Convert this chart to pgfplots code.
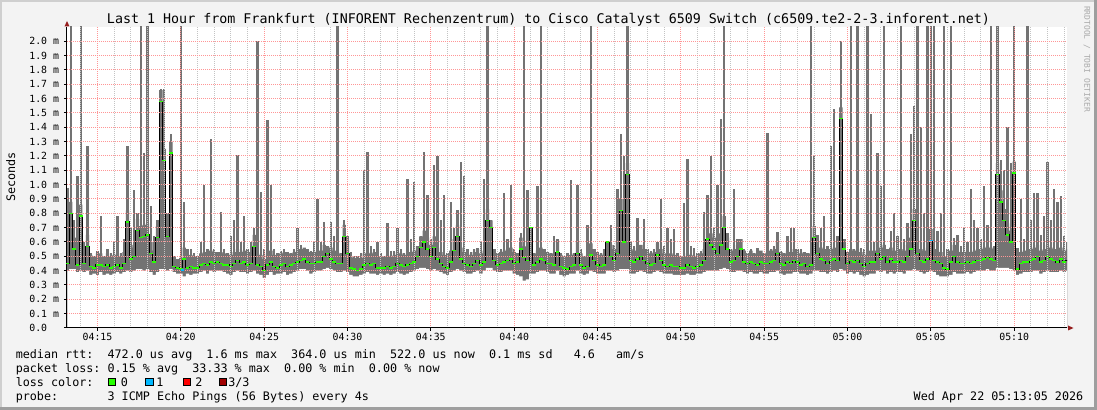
\documentclass[border=0pt]{standalone}
\usepackage{pgfplots}
\pgfplotsset{compat=1.18}
\usepackage{pgfplotstable}
\usepackage{fontspec}
\setmainfont{DejaVu Sans Mono}

\definecolor{canvas}{RGB}{243,243,243}
\definecolor{shadeA}{RGB}{207,207,207}
\definecolor{shadeB}{RGB}{158,158,158}
\definecolor{smoke}{RGB}{115,115,115}
\definecolor{loss0}{RGB}{38,255,0}
\definecolor{loss1}{RGB}{0,184,255}
\definecolor{loss2}{RGB}{255,0,0}
\definecolor{loss3}{RGB}{160,0,0}
\definecolor{mgrid}{RGB}{255,150,150}
\definecolor{mingrid}{RGB}{195,195,195}
\definecolor{arrowc}{RGB}{150,30,30}
\definecolor{signc}{RGB}{170,170,170}

% minutes after 04:00, max / median / min rtt in ms
\pgfplotstableread{
t hi med lo
13.2 0.98 0.45 0.40
13.4 2.50 0.80 0.41
13.6 0.75 0.55 0.41
13.8 1.06 0.44 0.39
14.0 2.50 0.78 0.40
14.2 0.60 0.45 0.39
14.4 1.27 0.57 0.40
14.6 0.52 0.43 0.37
14.8 0.50 0.42 0.38
15.0 0.54 0.44 0.37
15.2 0.78 0.44 0.39
15.4 0.50 0.43 0.37
15.6 0.55 0.44 0.38
15.8 0.52 0.42 0.37
16.0 0.60 0.43 0.38
16.2 0.78 0.44 0.39
16.4 0.52 0.42 0.38
16.6 0.62 0.45 0.39
16.8 1.27 0.74 0.40
17.0 0.70 0.48 0.39
17.2 0.96 0.50 0.40
17.4 0.80 0.68 0.41
17.6 2.50 0.63 0.41
17.8 1.22 0.64 0.40
18.0 2.50 0.65 0.41
18.2 0.85 0.52 0.39
18.4 0.64 0.46 0.37
18.6 0.75 0.63 0.39
18.8 1.67 1.58 0.41
19.0 1.67 1.17 0.41
19.2 0.80 0.64 0.40
19.4 1.35 1.22 0.41
19.6 0.50 0.43 0.39
19.8 0.48 0.42 0.38
20.0 2.50 0.41 0.38
20.2 0.88 0.48 0.36
20.4 0.55 0.42 0.38
20.6 0.55 0.43 0.37
20.8 0.52 0.42 0.38
21.0 0.50 0.42 0.38
21.2 0.60 0.44 0.39
21.4 1.00 0.45 0.40
21.6 0.55 0.44 0.38
21.8 1.32 0.46 0.40
22.0 0.55 0.45 0.39
22.2 0.53 0.46 0.40
22.4 0.81 0.45 0.40
22.6 0.55 0.44 0.39
22.8 0.52 0.44 0.38
23.0 0.64 0.43 0.37
23.2 0.75 0.45 0.39
23.4 1.21 0.47 0.40
23.6 0.60 0.45 0.39
23.8 0.78 0.46 0.39
24.0 0.55 0.44 0.38
24.2 0.60 0.45 0.39
24.4 0.70 0.57 0.40
24.6 2.00 0.44 0.38
24.8 0.95 0.43 0.37
25.0 0.55 0.40 0.35
25.2 1.45 0.44 0.37
25.4 1.00 0.46 0.39
25.6 0.55 0.43 0.37
25.8 0.52 0.42 0.38
26.0 0.54 0.44 0.38
26.2 0.55 0.45 0.39
26.4 0.53 0.43 0.37
26.6 0.52 0.44 0.38
26.8 0.55 0.45 0.39
27.0 0.70 0.46 0.40
27.2 0.58 0.47 0.41
27.4 0.56 0.48 0.41
27.6 0.55 0.46 0.40
27.8 0.54 0.45 0.38
28.0 0.60 0.45 0.39
28.2 0.90 0.46 0.40
28.4 0.60 0.46 0.40
28.6 0.74 0.50 0.41
28.8 0.57 0.52 0.42
29.0 0.74 0.48 0.41
29.2 0.64 0.46 0.40
29.4 2.50 0.45 0.39
29.6 0.52 0.45 0.39
29.8 0.75 0.64 0.40
30.0 0.64 0.52 0.39
30.2 0.53 0.42 0.37
30.4 0.50 0.41 0.36
30.6 0.50 0.40 0.36
30.8 0.52 0.41 0.37
31.0 1.10 0.44 0.38
31.2 1.23 0.45 0.39
31.4 0.57 0.44 0.38
31.6 0.55 0.45 0.38
31.8 0.60 0.42 0.37
32.0 0.52 0.42 0.38
32.2 0.50 0.42 0.37
32.4 0.73 0.43 0.38
32.6 0.54 0.42 0.37
32.8 0.54 0.43 0.38
33.0 0.70 0.45 0.39
33.2 0.55 0.44 0.38
33.4 0.52 0.43 0.37
33.6 1.04 0.44 0.38
33.8 0.62 0.45 0.39
34.0 1.02 0.46 0.40
34.2 0.57 0.50 0.41
34.4 0.64 0.56 0.42
34.6 1.23 0.60 0.42
34.8 0.93 0.55 0.41
35.0 0.62 0.50 0.40
35.2 1.14 0.56 0.41
35.4 1.20 0.48 0.40
35.6 0.75 0.45 0.39
35.8 0.93 0.43 0.38
36.0 0.52 0.42 0.37
36.2 0.88 0.46 0.39
36.4 0.70 0.54 0.40
36.6 0.82 0.64 0.41
36.8 1.16 0.48 0.40
37.0 1.06 0.45 0.39
37.2 0.55 0.44 0.38
37.4 0.53 0.43 0.38
37.6 0.55 0.45 0.39
37.8 0.56 0.47 0.40
38.0 0.60 0.44 0.38
38.2 1.04 0.46 0.40
38.4 2.50 0.75 0.42
38.6 0.75 0.70 0.42
38.8 0.55 0.47 0.40
39.0 0.52 0.44 0.39
39.2 0.55 0.45 0.39
39.4 0.94 0.46 0.40
39.6 0.62 0.47 0.40
39.8 1.00 0.48 0.40
40.0 0.55 0.45 0.38
40.2 0.52 0.46 0.37
40.4 0.66 0.55 0.36
40.6 2.50 0.49 0.33
40.8 0.96 0.47 0.34
41.0 0.70 0.70 0.38
41.2 0.52 0.44 0.38
41.4 0.99 0.46 0.39
41.6 2.50 0.48 0.40
41.8 0.55 0.47 0.40
42.0 0.53 0.45 0.39
42.2 0.52 0.45 0.38
42.4 0.64 0.44 0.38
42.6 0.62 0.53 0.40
42.8 0.52 0.43 0.37
43.0 0.50 0.42 0.36
43.2 0.52 0.41 0.37
43.4 1.03 0.43 0.38
43.6 0.52 0.44 0.38
43.8 1.00 0.52 0.40
44.0 0.55 0.44 0.38
44.2 0.50 0.42 0.37
44.4 0.72 0.43 0.38
44.6 2.50 0.51 0.40
44.8 0.55 0.47 0.39
45.0 0.53 0.44 0.38
45.2 0.52 0.43 0.38
45.4 0.55 0.44 0.38
45.6 0.60 0.60 0.40
45.8 0.72 0.50 0.40
46.0 0.58 0.47 0.39
46.2 0.97 0.52 0.40
46.4 1.35 0.82 0.41
46.6 1.20 0.60 0.41
46.8 2.50 1.07 0.41
47.0 0.60 0.47 0.38
47.2 0.57 0.46 0.38
47.4 0.77 0.48 0.39
47.6 0.58 0.50 0.40
47.8 0.76 0.47 0.39
48.0 0.55 0.45 0.38
48.2 0.54 0.44 0.38
48.4 0.55 0.45 0.39
48.6 0.60 0.51 0.40
48.8 0.90 0.47 0.39
49.0 0.57 0.44 0.38
49.2 0.70 0.43 0.38
49.4 0.62 0.44 0.38
49.6 0.69 0.43 0.37
49.8 0.52 0.43 0.37
50.0 0.50 0.42 0.37
50.2 0.87 0.42 0.37
50.4 1.18 0.44 0.38
50.6 0.57 0.43 0.37
50.8 0.56 0.42 0.37
51.0 0.52 0.43 0.38
51.2 0.54 0.44 0.38
51.4 0.81 0.47 0.39
51.6 0.93 0.62 0.40
51.8 1.20 0.58 0.40
52.0 0.70 0.55 0.40
52.2 1.00 0.52 0.40
52.4 1.46 0.58 0.41
52.6 2.50 0.70 0.42
52.8 0.66 0.55 0.41
53.0 0.55 0.46 0.39
53.2 0.97 0.47 0.39
53.4 0.62 0.50 0.40
53.6 0.62 0.55 0.40
53.8 0.55 0.46 0.39
54.0 0.52 0.45 0.38
54.2 0.55 0.46 0.39
54.4 0.52 0.45 0.38
54.6 0.56 0.44 0.38
54.8 0.54 0.46 0.39
55.0 0.52 0.45 0.38
55.2 1.36 0.45 0.38
55.4 0.55 0.46 0.39
55.6 0.57 0.47 0.39
55.8 0.67 0.52 0.40
56.0 0.54 0.45 0.38
56.2 0.52 0.44 0.37
56.4 0.64 0.46 0.38
56.6 0.70 0.45 0.38
56.8 0.70 0.47 0.39
57.0 0.55 0.46 0.39
57.2 0.55 0.44 0.38
57.4 0.53 0.45 0.38
57.6 0.52 0.43 0.37
57.8 2.50 0.44 0.38
58.0 1.20 0.63 0.40
58.2 0.65 0.52 0.40
58.4 0.70 0.48 0.39
58.6 0.78 0.47 0.39
58.8 0.57 0.45 0.38
59.0 1.27 0.47 0.39
59.2 1.53 0.48 0.40
59.4 0.64 0.47 0.39
59.6 2.00 1.46 0.41
59.8 0.62 0.55 0.40
60.0 0.53 0.45 0.38
60.2 2.50 0.47 0.39
60.4 0.55 0.46 0.38
60.6 2.50 0.47 0.39
60.8 0.56 0.45 0.37
61.0 0.55 0.43 0.36
61.2 2.50 0.45 0.37
61.4 1.49 0.46 0.38
61.6 0.60 0.46 0.38
61.8 1.22 0.52 0.40
62.0 0.99 0.48 0.39
62.2 2.50 0.50 0.40
62.4 0.55 0.46 0.38
62.6 0.68 0.48 0.39
62.8 0.80 0.46 0.38
63.0 0.64 0.46 0.39
63.2 2.50 0.47 0.39
63.4 0.62 0.46 0.38
63.6 0.73 0.50 0.40
63.8 1.35 0.55 0.40
64.0 1.55 0.75 0.41
64.2 2.50 0.52 0.40
64.4 1.40 0.47 0.39
64.6 0.80 0.46 0.38
64.8 2.50 0.48 0.39
65.0 2.50 0.61 0.40
65.2 2.50 0.47 0.39
65.4 0.68 0.46 0.37
65.6 0.80 0.45 0.36
65.8 2.50 0.42 0.36
66.0 0.55 0.41 0.36
66.2 2.50 0.46 0.37
66.4 0.63 0.50 0.39
66.6 0.65 0.46 0.38
66.8 0.57 0.45 0.38
67.0 0.70 0.45 0.38
67.2 0.60 0.46 0.39
67.4 0.97 0.45 0.38
67.6 0.75 0.46 0.39
67.8 0.70 0.47 0.40
68.0 0.62 0.47 0.40
68.2 0.99 0.48 0.40
68.4 0.72 0.49 0.41
68.6 2.50 0.48 0.40
68.8 0.57 0.47 0.40
69.0 2.50 1.07 0.42
69.2 1.17 0.88 0.42
69.4 1.10 0.75 0.42
69.6 1.40 0.65 0.42
69.8 1.15 0.60 0.41
70.0 2.50 1.08 0.40
70.2 0.56 0.41 0.37
70.4 0.90 0.45 0.38
70.6 0.62 0.46 0.39
70.8 2.50 0.46 0.39
71.0 0.75 0.47 0.39
71.2 0.94 0.48 0.40
71.4 0.94 0.50 0.40
71.6 0.65 0.46 0.38
71.8 0.78 0.47 0.39
72.0 1.16 0.50 0.40
72.2 0.75 0.48 0.39
72.4 0.97 0.47 0.39
72.6 0.88 0.46 0.39
72.8 0.92 0.48 0.40
73.0 0.64 0.46 0.39
73.2 0.60 0.47 0.40
}\rtt

\tikzset{legfont/.style={font=\fontsize{8.8pt}{10pt}\selectfont}}

\begin{document}
\begin{tikzpicture}
% whole canvas: 1097 x 410 px, 1 px = 0.75pt, origin at the lower left corner of the plot area
\useasboundingbox (-50.25pt,-61.5pt) rectangle (772.5pt,246pt);
\begin{scope}[x=0.75pt,y=-0.75pt,shift={(-67,-328)}]
  \fill[canvas] (0,0) rectangle (1097,410);
  \fill[shadeA] (0,0) rectangle (1097,2);
  \fill[shadeA] (0,0) rectangle (2,410);
  \fill[shadeB] (0,407) rectangle (1097,410);
  \fill[shadeB] (1094,0) rectangle (1097,410);
\end{scope}

\begin{axis}[
  at={(0pt,0pt)}, anchor=south west,
  scale only axis, width=750pt, height=225.75pt,
  xmin=13.17, xmax=73.17, ymin=0, ymax=2.1,
  axis background/.style={fill=white},
  axis on top,
  axis x line*=bottom, axis y line*=left,
  axis line style={black, line width=0.75pt, -},
  xtick={15,20,...,70},
  xticklabels={04:15,04:20,04:25,04:30,04:35,04:40,04:45,04:50,04:55,05:00,05:05,05:10},
  minor xtick={14,15,...,73},
  ytick={0,0.1,0.2,0.3,0.4,0.5,0.6,0.7,0.8,0.9,1.0,1.1,1.2,1.3,1.4,1.5,1.6,1.7,1.8,1.9,2.0},
  yticklabels={0.0\phantom{\ m},0.1 m,0.2 m,0.3 m,0.4 m,0.5 m,0.6 m,0.7 m,0.8 m,0.9 m,1.0 m,1.1 m,1.2 m,1.3 m,1.4 m,1.5 m,1.6 m,1.7 m,1.8 m,1.9 m,2.0 m},
  xmajorgrids, xminorgrids, ymajorgrids,
  major grid style={mgrid, line width=0.75pt, dash pattern=on 0.75pt off 0.75pt},
  minor grid style={mingrid, line width=0.75pt, dash pattern=on 0.75pt off 0.75pt},
  tick style={black, line width=0.75pt},
  tick align=outside, major tick length=2.25pt, minor tick length=0pt,
  xticklabel style={font=\fontsize{7.4pt}{8pt}\selectfont, anchor=base, yshift=-7pt},
  yticklabel style={font=\fontsize{7.4pt}{8pt}\selectfont, anchor=east, inner sep=0pt, xshift=-3.5pt},
]
  % smoke: spikes up to the slowest ping, dense band round the median
  \addplot[ycomb, smoke, line width=1.9pt] table[x=t, y=hi] {\rtt};
  \addplot[fill=smoke, draw=none, const plot mark mid]
    table[x=t, y expr={min(\thisrow{hi},\thisrow{med}+0.08)}] {\rtt} \closedcycle;
  \addplot[fill=white, draw=none, const plot mark mid] table[x=t, y=lo] {\rtt} \closedcycle;
  % median rtt
  \addplot[black, line width=0.75pt, const plot mark mid] table[x=t, y=med] {\rtt};
  \addplot[only marks, mark=-, mark size=1.3pt, mark options={loss0, line width=1.1pt}] table[x=t, y=med] {\rtt};
  \addplot[only marks, mark=-, mark size=1.3pt, mark options={loss1, line width=1.1pt}] coordinates {(20.1,0.405) (65.0,0.61)};
\end{axis}

\begin{scope}[x=0.75pt,y=-0.75pt,shift={(-67,-328)}]
  % axis arrow heads
  \fill[arrowc] (1068,325.5) -- (1073.5,328) -- (1068,330.5) -- cycle;
  \fill[arrowc] (64.5,26.5) -- (67,21) -- (69.5,26.5) -- cycle;
  \node[font=\fontsize{10pt}{12pt}\selectfont, anchor=base, inner sep=0pt] at (548.5,23.8)
    {Last 1 Hour from Frankfurt (INFORENT Rechenzentrum) to Cisco Catalyst 6509 Switch (c6509.te2-2-3.inforent.net)};
  \node[legfont, rotate=90, anchor=base, inner sep=0pt] at (15.2,177) {Seconds};
  \node[font=\fontsize{6pt}{7pt}\selectfont, text=signc, rotate=-90, inner sep=0pt] at (1087,59) {RRDTOOL / TOBI OETIKER};
  \node[legfont, anchor=base west, inner sep=0pt] at (15.5,358.6)
    {median~rtt:~~472.0~us~avg~~1.6~ms~max~~364.0~us~min~~522.0~us~now~~0.1~ms~sd~~~4.6~~~am/s};
  \node[legfont, anchor=base west, inner sep=0pt] at (15.5,372.6)
    {packet~loss:~0.15~\%~avg~~33.33~\%~max~~0.00~\%~min~~0.00~\%~now};
  \node[legfont, anchor=base west, inner sep=0pt] at (15.5,386.6) {loss~color:};
  \node[legfont, anchor=base west, inner sep=0pt] at (120.5,386.6) {0};
  \node[legfont, anchor=base west, inner sep=0pt] at (156,386.6) {1};
  \node[legfont, anchor=base west, inner sep=0pt] at (195,386.6) {2};
  \node[legfont, anchor=base west, inner sep=0pt] at (228,386.6) {3/3};
  \node[legfont, anchor=base west, inner sep=0pt] at (15.5,401)
    {probe:~~~~~~~3~ICMP~Echo~Pings~(56~Bytes)~every~4s};
  \node[legfont, anchor=base east, inner sep=0pt] at (1083.5,401) {Wed Apr 22 05:13:05 2026};
  % loss colour swatches
  \filldraw[fill=loss0, draw=black, line width=0.75pt] (108.5,378.5) rectangle (115.5,385.5);
  \filldraw[fill=loss1, draw=black, line width=0.75pt] (146,378.5) rectangle (153,385.5);
  \filldraw[fill=loss2, draw=black, line width=0.75pt] (183.5,378.5) rectangle (190.5,385.5);
  \filldraw[fill=loss3, draw=black, line width=0.75pt] (219,378.5) rectangle (226,385.5);
\end{scope}
\end{tikzpicture}
\end{document}
